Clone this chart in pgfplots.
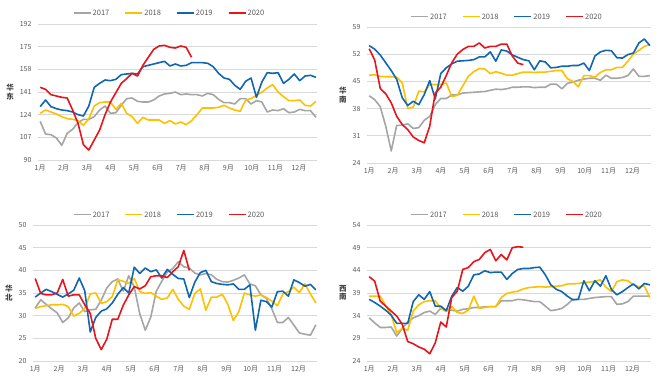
\documentclass[border=0pt]{standalone}
\usepackage{fontspec}
\setmainfont{Noto Sans CJK SC}
\usepackage{pgfplots}
\pgfplotsset{compat=1.18}
\usepackage{pgfplotstable}
\definecolor{c17}{HTML}{A5A5A5}
\definecolor{c18}{HTML}{FFC000}
\definecolor{c19}{HTML}{1066B0}
\definecolor{c20}{HTML}{E8141B}
\definecolor{gridc}{HTML}{D9D9D9}
\definecolor{txt}{HTML}{595959}
\definecolor{lab}{HTML}{404040}

\newcommand{\ls}[2]{\textcolor{#1}{\rule[0.28em]{17pt}{1.6pt}}\hspace{2pt}#2}

\pgfplotstableread{
w a b c d
0 119 125 130 144.5
1 109.5 127.5 135 143
2 109 126 130 139
3 106.5 124.5 128.5 138
4 101 122.5 127.5 137
5 110 121 127 136.5
6 113 120.5 126 127.5
7 118 119.5 124 117.5
8 120.5 116 123 101.5
9 120.5 121 130.5 97.5
10 122.5 130.5 144.5 105
11 127.5 133 147.5 112.5
12 130.5 133.5 150 124
13 125 133.5 149.5 133.5
14 125.5 128 150.5 140.5
15 131 132.5 154 147.5
16 136 125 154.5 151
17 136.5 122.5 155 155
18 134 117.5 154.5 153
19 133.5 122 160 161
20 133.5 120 161 167
21 135 120 162 173
22 138 120 163 175.5
23 139.5 117.5 164 176
24 140 119.5 160.5 174.5
25 141 117 162 174
26 139 118.5 160.5 175.5
27 139.5 116.5 161 174.5
28 139 119.5 163 167
29 139 124 163 nan
30 138 129 163 nan
31 140 129 162.5 nan
32 139 129 160 nan
33 135.5 129.5 155 nan
34 133 131 151.5 nan
35 133 129 150.5 nan
36 132 127.5 146 nan
37 136 126.5 143 nan
38 136 135 149 nan
39 132 136 151.5 nan
40 134.5 138.5 137 nan
41 133.5 141 148.5 nan
42 126 144 155.5 nan
43 127.5 146.5 155 nan
44 127 141 155.5 nan
45 128.5 137.5 147.5 nan
46 125.5 134.5 150.5 nan
47 126 134.5 154.5 nan
48 128 135 149.5 nan
49 127 131 153 nan
50 127 130.5 153.5 nan
51 122 134 152 nan
}\tA

\pgfplotstableread{
w a b c d
0 41.3 46.6 54.2 53.4
1 40.3 46.7 53.3 50.5
2 38.5 46.3 51.8 43.2
3 33.5 46.2 49.8 41.8
4 27.1 46.2 47.8 39.5
5 33.7 46.1 45.5 36
6 33.7 44.6 40.8 33.9
7 34.1 38 38.8 32.6
8 32.9 38.4 39.9 30.7
9 33.1 42.5 39 29.8
10 35 42.3 41.6 29.2
11 36 44.2 45.2 33.5
12 39 44.2 40.5 42
13 40.6 44.2 47 43.5
14 40.6 44.6 48.5 46.5
15 41.5 41.1 49.5 49.8
16 41.5 41.4 50.2 52
17 42 43.8 50.3 53.2
18 42.1 46.3 50.4 54
19 42.2 47.5 50.6 54
20 42.3 48.3 51.3 54.9
21 42.4 48.2 51.3 53.6
22 42.7 47 52.6 54
23 43 47.5 50.2 54
24 42.9 47.1 53.1 54.6
25 43.1 46.6 52.8 54.6
26 43.5 46.6 51.8 51.5
27 43.5 47 51.2 49.7
28 43.6 47.4 50.6 49.3
29 43.6 47.4 50.3 nan
30 43.4 47.3 48 nan
31 43.5 47.4 50.3 nan
32 43.5 47.4 50 nan
33 44.3 47.6 48.5 nan
34 44.3 47.8 48.6 nan
35 43.1 47.8 48.9 nan
36 44.5 45.7 48.9 nan
37 44.8 45 49.1 nan
38 45.3 43.6 49.1 nan
39 45.6 46.5 49.7 nan
40 45.8 46.5 47.8 nan
41 45.8 46.1 51.5 nan
42 45.3 47.3 52.6 nan
43 46.6 48 53 nan
44 45.8 48 52.9 nan
45 45.8 48.6 51.1 nan
46 46 48.6 51 nan
47 46.5 50.2 51.9 nan
48 48.2 52 52.3 nan
49 46.3 53 54.9 nan
50 46.3 54 55.9 nan
51 46.5 54.5 54.2 nan
}\tB

\pgfplotstableread{
w a b c d
0 31.7 31.6 34.1 38.2
1 33.5 32 35 34.9
2 32.5 32.2 35.8 34.6
3 31.5 32.4 35.3 34.6
4 30.6 32.4 34.7 35
5 28.5 32.5 34.1 38
6 29.5 32 34.8 34.3
7 31.7 29.9 35.6 34.6
8 32.8 30.5 38.3 34.6
9 30.9 31.6 35.5 32.4
10 31.3 34.8 26.4 30.5
11 31.4 35 29.6 25
12 33.4 32.7 31 22.5
13 36.1 33.1 31.5 24.8
14 37.5 34.2 32.8 29.2
15 38.1 37.9 34.7 29.2
16 35.4 37.6 36.2 32.3
17 38.8 37.1 35 34.6
18 36.3 38.2 40.7 36.4
19 30.4 35.3 39.3 35.9
20 26.8 34.9 40.5 36.6
21 29.7 35.1 39.7 38.6
22 35.4 34.3 40.1 38.8
23 37.6 33.6 38.3 38.8
24 39.6 33.9 40.2 38.4
25 40.4 35.8 39.1 39.7
26 41.9 33.6 38.2 40.8
27 40.8 32.1 38.1 44.4
28 40.5 31.4 34 40
29 39.4 34.9 37.4 nan
30 39 35.9 39.5 nan
31 39.3 31.2 40 nan
32 39 34.1 37.5 nan
33 38 34.1 37.1 nan
34 37.5 34.7 36.9 nan
35 37.4 32.5 36.8 nan
36 37.8 28.9 37 nan
37 38.3 30.9 35.8 nan
38 39 35 35.8 nan
39 37 34.6 36.8 nan
40 36.6 34.3 26.8 nan
41 34.6 34.6 33.4 nan
42 33.8 34 33.1 nan
43 31.5 33.2 31.9 nan
44 28.5 32.2 35.3 nan
45 28.5 34.8 35.4 nan
46 29.6 35.3 34.3 nan
47 27.9 36.3 37.9 nan
48 26.2 35.1 37.3 nan
49 25.9 37 36.5 nan
50 25.7 34.8 36.9 nan
51 28 32.8 35.7 nan
}\tC

\pgfplotstableread{
w a b c d
0 33.5 38.3 37.6 42.6
1 32.4 38.3 36.9 41.6
2 31.4 38.3 36.1 37.2
3 31.4 36.2 35.2 36.1
4 31.5 34.2 34.1 35
5 29.5 30.2 32.3 33.9
6 31.2 31.2 32.3 32.1
7 32.6 30.8 32.3 28.3
8 33.5 35 37.1 27.8
9 34 36.4 38.6 27.1
10 34.7 37.1 37.6 26.6
11 35 37.3 39.3 25.6
12 34.3 37.3 36.1 28
13 35.6 35.6 36.1 32.6
14 35.3 34.9 35.1 31.5
15 35.2 36 38.3 38
16 35 34.7 40.2 39.4
17 35.4 34.5 39.4 44.2
18 35.5 35.2 40.5 44.6
19 35.8 38.3 43 45.9
20 35.8 35.6 43.2 46.4
21 36 35.8 43.9 47.9
22 36 36 43.5 48.6
23 36 36 43.6 46.1
24 37.3 38 43.6 47.5
25 37.3 38.9 42 46.3
26 37.3 39.2 43.3 49
27 37.6 39.4 44.2 49.2
28 37.5 39.9 44.4 49.1
29 37.3 40.2 44.4 nan
30 37.1 40.3 44.6 nan
31 37.1 40.4 44.7 nan
32 36.1 40.3 43 nan
33 35.1 40.4 40.8 nan
34 35.3 40.5 39.8 nan
35 35.6 40.6 39.3 nan
36 36.5 41 38.3 nan
37 37.6 41 37.5 nan
38 37.6 41.1 37.6 nan
39 37.6 41.3 41.7 nan
40 37.8 41.4 39.5 nan
41 38 41.6 41.7 nan
42 38.1 41.9 40.5 nan
43 38.2 40.3 42.8 nan
44 38.2 39.3 39.8 nan
45 36.5 41.5 38.6 nan
46 36.6 41.9 39.3 nan
47 37.1 41.7 40.2 nan
48 38.3 40.8 41 nan
49 38.3 40.4 39.9 nan
50 38.3 40.5 41.1 nan
51 38.3 38 40.8 nan
}\tD

\pgfplotsset{
  panel/.style={
    scale only axis,
    height=136pt,
    xmin=-0.4, xmax=51.2,
    xtick={0,4.35,8.7,13.05,17.4,21.75,26.1,30.45,34.8,39.15,43.5,47.85},
    xticklabels={1月,2月,3月,4月,5月,6月,7月,8月,9月,10月,11月,12月},
    x axis line style={draw=none},
    y axis line style={draw=none},
    major tick length=0pt,
    ymajorgrids,
    grid style={gridc, line width=0.6pt},
    tick label style={font=\fontsize{7}{8}\selectfont, text=txt},
    xticklabel style={yshift=-1.5pt},
    yticklabel style={xshift=-3pt},
    /pgf/number format/assume math mode=true,
    legend columns=4,
    legend image code/.code={},
    legend style={draw=none, fill=none, font=\fontsize{7.5}{9}\selectfont, text=txt,
      /tikz/every even column/.style={column sep=0pt},
      /tikz/every odd column/.style={column sep=12pt},
      inner sep=0pt},
    ylabel style={rotate=-90, align=center, font=\fontsize{7.5}{8.5}\selectfont\bfseries, text=lab, anchor=center},
  },
  yr/.style={line width=1.6pt, mark=none, line join=round},
}

\begin{document}
\begin{tikzpicture}
\path[use as bounding box] (0pt,0pt) rectangle (660pt,382pt);

\begin{axis}[panel, at={(38pt,222pt)}, anchor=south west, width=279pt,
  ymin=90, ymax=192, ytick={90,107,124,141,158,175,192},
  ylabel={华\\东}, ylabel style={at={(axis description cs:-0.1,0.5)}},
  legend style={at={(axis description cs:0.448,1.074)}, anchor=center}]
\addplot[yr, c17] table[x=w,y=a]{\tA};
\addplot[yr, c18] table[x=w,y=b]{\tA};
\addplot[yr, c19] table[x=w,y=c]{\tA};
\addplot[yr, c20] table[x=w,y=d]{\tA};
\legend{\ls{c17}{2017},\ls{c18}{2018},\ls{c19}{2019},\ls{c20}{2020}}
\end{axis}

\begin{axis}[panel, at={(367pt,219pt)}, anchor=south west, width=284pt,
  ymin=24, ymax=59, ytick={24,31,38,45,52,59},
  ylabel={华\\南}, ylabel style={at={(axis description cs:-0.085,0.5)}},
  legend style={at={(axis description cs:0.47,1.07)}, anchor=center}]
\addplot[yr, c17] table[x=w,y=a]{\tB};
\addplot[yr, c18] table[x=w,y=b]{\tB};
\addplot[yr, c19] table[x=w,y=c]{\tB};
\addplot[yr, c20] table[x=w,y=d]{\tB};
\legend{\ls{c17}{2017},\ls{c18}{2018},\ls{c19}{2019},\ls{c20}{2020}}
\end{axis}

\begin{axis}[panel, at={(33pt,21pt)}, anchor=south west, width=284pt,
  ymin=20, ymax=50, ytick={20,25,30,35,40,45,50},
  ylabel={华\\北}, ylabel style={at={(axis description cs:-0.085,0.5)}},
  legend style={at={(axis description cs:0.458,1.07)}, anchor=center}]
\addplot[yr, c17] table[x=w,y=a]{\tC};
\addplot[yr, c18] table[x=w,y=b]{\tC};
\addplot[yr, c19] table[x=w,y=c]{\tC};
\addplot[yr, c20] table[x=w,y=d]{\tC};
\legend{\ls{c17}{2017},\ls{c18}{2018},\ls{c19}{2019},\ls{c20}{2020}}
\end{axis}

\begin{axis}[panel, at={(367pt,21pt)}, anchor=south west, width=284pt,
  ymin=24, ymax=54, ytick={24,29,34,39,44,49,54},
  ylabel={西\\南}, ylabel style={at={(axis description cs:-0.085,0.5)}},
  legend style={at={(axis description cs:0.47,1.07)}, anchor=center}]
\addplot[yr, c17] table[x=w,y=a]{\tD};
\addplot[yr, c18] table[x=w,y=b]{\tD};
\addplot[yr, c19] table[x=w,y=c]{\tD};
\addplot[yr, c20] table[x=w,y=d]{\tD};
\legend{\ls{c17}{2017},\ls{c18}{2018},\ls{c19}{2019},\ls{c20}{2020}}
\end{axis}
\end{tikzpicture}
\end{document}
